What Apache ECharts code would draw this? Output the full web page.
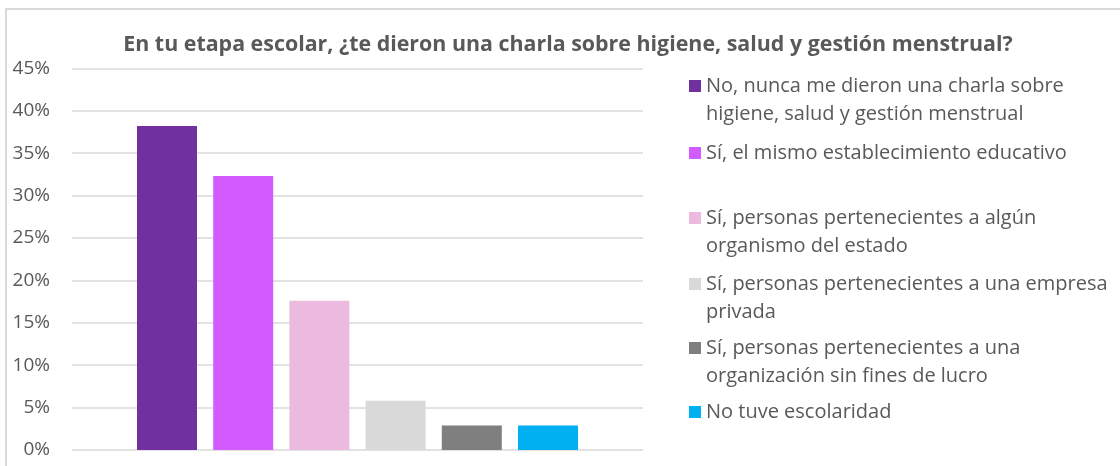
<!DOCTYPE html>
<html>
<head>
<meta charset="utf-8">
<script src="https://cdn.jsdelivr.net/npm/echarts@6/dist/echarts.min.js"></script>
<style>
  html, body { margin: 0; padding: 0; background: #ffffff; }
  #wrap { position: relative; width: 1120px; height: 466px; overflow: hidden; }
  #frame { position: absolute; left: 5px; top: 8px; width: 1200px; height: 600px;
           border-left: 2px solid #d9d9d9; border-top: 2px solid #d9d9d9; }
  #chart { position: absolute; left: 0; top: 0; width: 1120px; height: 466px; }
</style>
</head>
<body>
<div id="wrap">
  <div id="frame"></div>
  <div id="chart"></div>
</div>
<script>
// Survey answers (share of respondents, %)
const titleText = 'En tu etapa escolar, ¿te dieron una charla sobre higiene, salud y gestión menstrual?';
const seriesNames = [
  'No, nunca me dieron una charla sobre higiene, salud y gestión menstrual',
  'Sí, el mismo establecimiento educativo',
  'Sí, personas pertenecientes a algún organismo del estado',
  'Sí, personas pertenecientes a una empresa privada',
  'Sí, personas pertenecientes a una organización sin fines de lucro',
  'No tuve escolaridad'
];
const legendLines = [
  ['No, nunca me dieron una charla sobre', 'higiene, salud y gestión menstrual'],
  ['Sí, el mismo establecimiento educativo'],
  ['Sí, personas pertenecientes a algún', 'organismo del estado'],
  ['Sí, personas pertenecientes a una empresa', 'privada'],
  ['Sí, personas pertenecientes a una', 'organización sin fines de lucro'],
  ['No tuve escolaridad']
];
const values = [38.2, 32.3, 17.6, 5.8, 2.9, 2.9];
const colors = ['#7030a0', '#d25bff', '#ecbade', '#d9d9d9', '#7f7f7f', '#00b0f0'];
const yTicks = { min: 0, max: 45, interval: 5 };

const FONT = '"Open Sans", Lato, sans-serif';
const TEXT = '#595959';
const LINE_H = 28;
// vertical centre of each legend marker (= centre of the entry's first text line)
const legendMarkY = [86, 153, 218, 284, 348, 412];

const legends = seriesNames.map((name, i) => {
  const lines = legendLines[i];
  // blank lines above balance the wrapped lines below, so the marker sits on line one
  const padded = Array(lines.length - 1).fill(' ').concat(lines);
  const boxH = padded.length * LINE_H;
  return {
    data: [name],
    left: 689,
    top: legendMarkY[i] - boxH / 2,
    padding: 0,
    icon: 'rect',
    itemWidth: 12,
    itemHeight: 12,
    selectedMode: false,
    formatter: () => padded.join('\n'),
    textStyle: { color: TEXT, fontFamily: FONT, fontSize: 20, lineHeight: LINE_H }
  };
});

const chart = echarts.init(document.getElementById('chart'), null, { renderer: 'canvas' });
chart.setOption({
  animation: false,
  backgroundColor: 'transparent',
  title: {
    text: titleText,
    left: 568, top: 33,
    textAlign: 'center',
    padding: 0,
    textStyle: { color: TEXT, fontFamily: FONT, fontSize: 21.4, fontWeight: 'bold', lineHeight: 24 }
  },
  legend: legends,
  grid: { left: 72, right: 477, top: 68.3, bottom: 16, containLabel: false },
  xAxis: {
    type: 'category',
    data: [''],
    axisLine: { show: false },
    axisTick: { show: false },
    axisLabel: { show: false }
  },
  yAxis: {
    type: 'value',
    min: yTicks.min, max: yTicks.max, interval: yTicks.interval,
    axisLine: { show: false },
    axisTick: { show: false },
    axisLabel: { formatter: '{value}%', color: TEXT, fontFamily: FONT, fontSize: 19, margin: 22 },
    splitLine: { lineStyle: { color: '#d9d9d9', width: 1.5 } }
  },
  series: seriesNames.map((name, i) => ({
    name,
    type: 'bar',
    data: [values[i]],
    barWidth: 60,
    barGap: '27%',
    itemStyle: { color: colors[i] }
  }))
});
</script>
</body>
</html>
